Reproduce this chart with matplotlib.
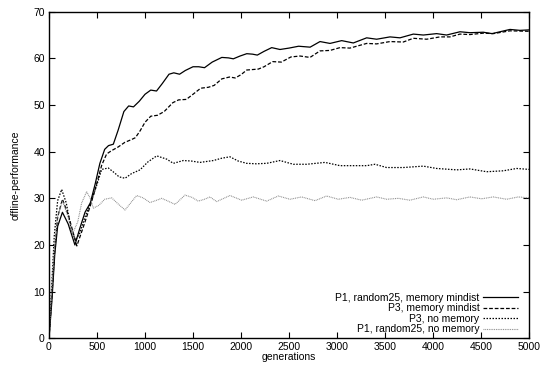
import matplotlib
matplotlib.use("Agg")
import matplotlib.pyplot as plt

plt.rcParams['font.family'] = ['Liberation Sans', 'DejaVu Sans']

# P1, random25, memory mindist
gen_p1_mem = [0, 30, 60, 90, 140, 200, 270, 320, 375, 430, 480, 530, 580, 620, 670, 720, 780, 830, 880,
              940, 1000, 1060, 1120, 1180, 1250, 1300, 1360, 1420, 1500, 1560, 1620, 1700, 1800, 1870,
              1920, 1990, 2060, 2120, 2170, 2240, 2320, 2406, 2500, 2600, 2720, 2823, 2927, 3049, 3170,
              3309, 3413, 3552, 3656, 3795, 3899, 4038, 4142, 4281, 4385, 4524, 4615, 4802, 4906, 5000]
val_p1_mem = [0, 8, 18, 24, 27, 24.5, 20, 23.5, 27, 29, 33, 37.5, 40.5, 41.3, 41.6, 44.6, 48.6, 49.8, 49.6,
              50.8, 52.3, 53.2, 53.0, 54.6, 56.6, 56.9, 56.6, 57.4, 58.2, 58.2, 58.0, 59.2, 60.2, 60.1,
              59.9, 60.5, 61.0, 60.9, 60.7, 61.5, 62.3, 61.9, 62.2, 62.6, 62.4, 63.6, 63.2, 63.8, 63.3,
              64.4, 64.1, 64.6, 64.4, 65.2, 65.0, 65.3, 65.0, 65.7, 65.5, 65.6, 65.3, 66.2, 66.0, 66.1]

# P3, memory mindist
gen_p3_mem = [0, 30, 60, 90, 140, 200, 290, 358, 427, 479, 549, 600, 650, 720, 790, 860, 900, 950, 1000,
              1060, 1130, 1200, 1290, 1350, 1430, 1500, 1580, 1660, 1720, 1800, 1880, 1940, 2000, 2060,
              2180, 2240, 2330, 2420, 2520, 2615, 2719, 2823, 2927, 3031, 3135, 3309, 3413, 3552, 3690,
              3795, 3934, 4073, 4177, 4281, 4385, 4524, 4628, 4802, 5000]
val_p3_mem = [0, 9, 19, 26, 29.8, 26.5, 19.8, 23.9, 28.2, 31.8, 37.1, 39.5, 40.2, 41, 42, 42.6, 43, 44.5, 46.3,
              47.6, 47.8, 48.6, 50.5, 51.1, 51.2, 52.3, 53.6, 53.8, 54.2, 55.6, 56.0, 55.8, 56.5, 57.5,
              57.7, 58.2, 59.3, 59.2, 60.3, 60.5, 60.2, 61.6, 61.7, 62.3, 62.2, 63.2, 63.1, 63.6, 63.5,
              64.3, 64.1, 64.6, 64.6, 65.2, 65.1, 65.4, 65.3, 65.9, 65.8]

# P3, no memory
gen_p3_nomem = [0, 25, 55, 90, 132, 180, 230, 275, 320, 375, 444, 497, 549, 618, 680, 730, 792, 860, 948,
                1030, 1122, 1226, 1295, 1399, 1480, 1573, 1712, 1800, 1885, 1970, 2059, 2160, 2267, 2406,
                2545, 2684, 2875, 3031, 3170, 3309, 3396, 3517, 3690, 3899, 4038, 4247, 4385, 4559, 4733,
                4872, 5000]
val_p3_nomem = [0, 10, 22, 29.5, 31.9, 29, 23.5, 21, 22.5, 26, 29.6, 32.8, 36.2, 36.5, 35.5, 34.6, 34.3, 35.3, 36.1,
                37.8, 39.1, 38.4, 37.5, 38.1, 38.0, 37.7, 38.1, 38.6, 38.9, 38.0, 37.5, 37.4, 37.5, 38.1,
                37.3, 37.3, 37.7, 37.0, 37.0, 37.0, 37.3, 36.6, 36.6, 36.9, 36.4, 36.1, 36.3, 35.7, 35.9,
                36.4, 36.2]

# P1, random25, no memory
gen_p1_nomem = [0, 25, 55, 90, 140, 190, 247, 300, 340, 392, 430, 462, 520, 580, 653, 720, 792, 850, 913,
                980, 1052, 1110, 1174, 1240, 1313, 1360, 1417, 1490, 1555, 1620, 1677, 1746, 1885, 2007,
                2128, 2267, 2389, 2510, 2632, 2771, 2892, 3014, 3135, 3257, 3413, 3517, 3638, 3760, 3899,
                4003, 4142, 4246, 4385, 4507, 4628, 4767, 4889, 5000]
val_p1_nomem = [0, 9, 19, 26, 29.5, 26.5, 22.5, 25, 29, 31.4, 30, 27.9, 28.5, 29.8, 30.1, 28.8, 27.5, 29, 30.6,
                30.1, 29.1, 29.5, 30.0, 29.4, 28.7, 29.6, 30.7, 30.2, 29.4, 29.8, 30.3, 29.3, 30.6, 29.6,
                30.3, 29.4, 30.5, 29.8, 30.3, 29.5, 30.5, 29.8, 30.2, 29.6, 30.3, 29.8, 30.0, 29.6, 30.3,
                29.8, 30.1, 29.7, 30.3, 29.9, 30.3, 29.8, 30.3, 30.1]

fig = plt.figure(figsize=(5.4, 3.68), dpi=100)
ax = fig.add_axes([49 / 540, (368 - 338.3) / 368, 480 / 540, 326.6 / 368])

ax.plot(gen_p1_mem, val_p1_mem, color='black', lw=0.9, label='P1, random25, memory mindist')
ax.plot(gen_p3_mem, val_p3_mem, color='black', lw=0.9, dashes=(3, 1.5), label='P3, memory mindist')
ax.plot(gen_p3_nomem, val_p3_nomem, color='black', lw=0.9, dashes=(1.2, 1.2), label='P3, no memory')
ax.plot(gen_p1_nomem, val_p1_nomem, color='#888888', lw=0.8, dashes=(0.8, 0.8), label='P1, random25, no memory')

ax.set_xlim(0, 5000)
ax.set_ylim(0, 70)
ax.set_xticks(range(0, 5001, 500))
ax.set_yticks(range(0, 71, 10))
ax.tick_params(direction='in', length=4, width=0.8, top=True, right=True, labelsize=7.5, pad=3)
for s in ax.spines.values():
    s.set_linewidth(1.0)

ax.set_xlabel('generations', fontsize=7.5, labelpad=0)
ax.set_ylabel('offline-performance', fontsize=7.5, labelpad=9)

leg = ax.legend(loc='lower right', bbox_to_anchor=(1 - 11 / 480, 4 / 326.6), frameon=False,
                markerfirst=False, fontsize=7.5, handlelength=3.4, handletextpad=0.3,
                labelspacing=0.05, borderpad=0, borderaxespad=0)

fig.savefig('out.png', dpi=100)
